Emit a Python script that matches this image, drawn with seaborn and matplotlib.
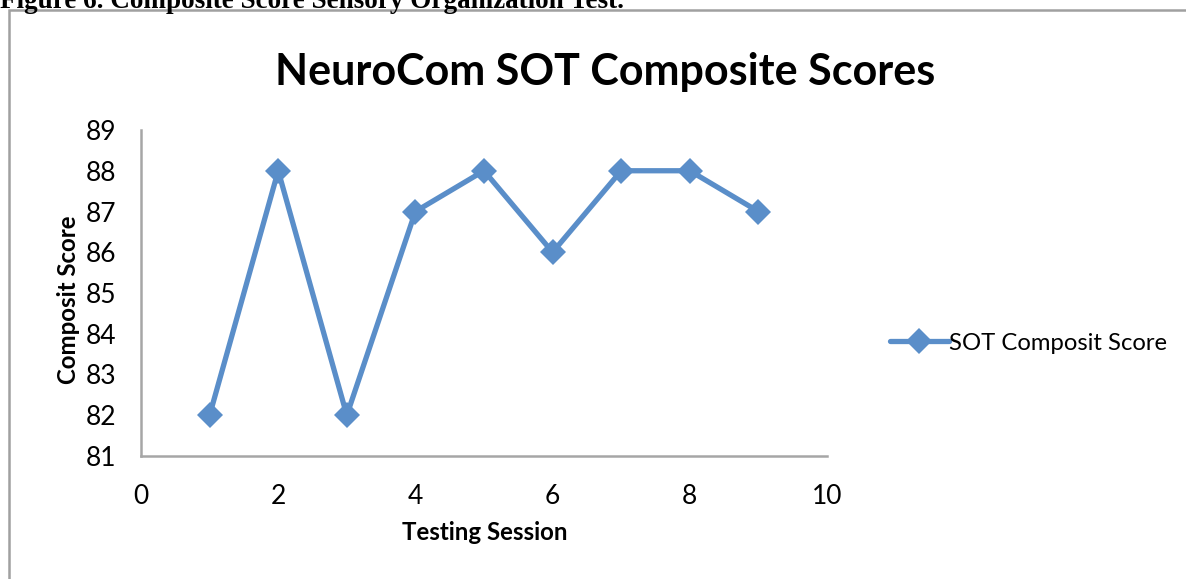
import matplotlib
matplotlib.use("Agg")
import matplotlib.pyplot as plt
import seaborn as sns
import pandas as pd
from matplotlib.patches import Rectangle
from matplotlib.lines import Line2D

sessions = [1, 2, 3, 4, 5, 6, 7, 8, 9]
scores = [82, 88, 82, 87, 88, 86, 88, 88, 87]
series_name = "SOT Composit Score"
x_ticks = [0, 2, 4, 6, 8, 10]
y_ticks = [81, 82, 83, 84, 85, 86, 87, 88, 89]

sns.set_style("white")
plt.rcParams['font.family'] = ['Lato', 'DejaVu Sans']
plt.rcParams['text.color'] = 'black'
plt.rcParams['axes.labelcolor'] = 'black'

df = pd.DataFrame({"Testing Session": sessions, "Composit Score": scores, "series": series_name})

fig = plt.figure(figsize=(11.86, 5.79), dpi=100)
ax = fig.add_axes([141/1186, 1-456/579, (827-141)/1186, (456-130)/579])

color = "#5a8ec9"
sns.lineplot(data=df, x="Testing Session", y="Composit Score", hue="series",
             palette=[color], marker="D", markersize=13, linewidth=3.8,
             markeredgewidth=0, ax=ax, legend=False)

ax.set_xlim(0, 10)
ax.set_ylim(81, 89)
ax.set_xticks(x_ticks)
ax.set_yticks(y_ticks)
ax.tick_params(axis='both', length=0, labelsize=19, colors='black')
ax.tick_params(axis='y', pad=18)
ax.tick_params(axis='x', pad=20)
for s in ['top', 'right']:
    ax.spines[s].set_visible(False)
for s in ['left', 'bottom']:
    ax.spines[s].set_color('#a6a6a6')
    ax.spines[s].set_linewidth(1.8)

ax.set_xlabel("Testing Session", fontsize=17.3, fontweight='bold')
ax.set_ylabel("Composit Score", fontsize=17.3, fontweight='bold')
ax.xaxis.set_label_coords((485-141)/686, -(533-456)/326)
ax.yaxis.set_label_coords((68-141)/686, (456-300)/326)
ax.xaxis.label.set_va('center')
ax.yaxis.label.set_va('center')

fig.text(605/1186, 1-72/579, "NeuroCom SOT Composite Scores", fontsize=31,
         fontweight='bold', ha='center', va='center', color='black')

handle = Line2D([], [], color=color, marker='D', markersize=13, linewidth=3.8,
                markeredgewidth=0)
fig.legend([handle], [series_name], loc='center left',
           bbox_to_anchor=(880/1186, 1-343/579), frameon=False, fontsize=17.2,
           handlelength=2.5, handletextpad=0.0, borderaxespad=0)

fig.text(0.0, 1-7.5/579, "Figure 6. Composite Score Sensory Organization Test.",
         fontsize=19.5, fontweight='bold', family=['Liberation Serif', 'DejaVu Serif'],
         ha='left', va='baseline', color='black')

fig.patches.append(Rectangle((9/1186, -0.05), 1.2, 1-10/579+0.05, transform=fig.transFigure,
                             fill=False, edgecolor='#a0a0a0', linewidth=1.8))

fig.savefig("out.png", dpi=100)
